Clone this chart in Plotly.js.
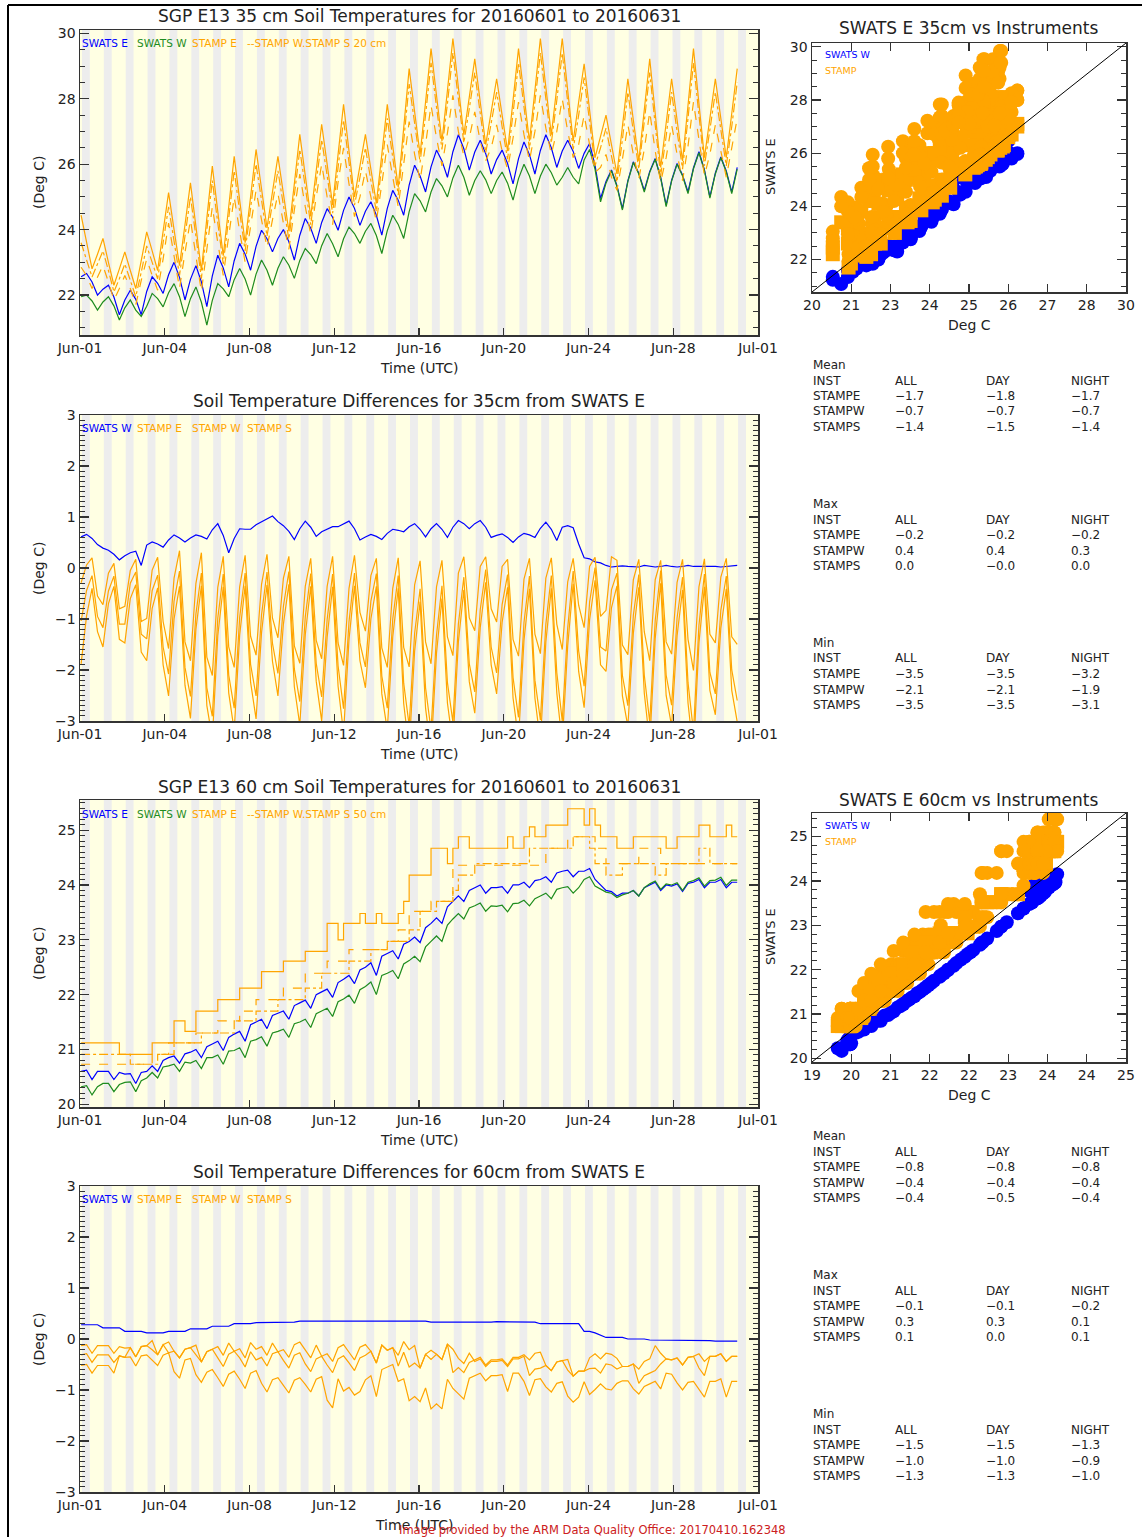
<!DOCTYPE html>
<html>
<head>
<meta charset="utf-8">
<script src="https://cdn.plot.ly/plotly-3.0.1.min.js"></script>
<style>html,body{margin:0;padding:0;background:#fff;}#chart{width:1142px;height:1537px;}</style>
</head>
<body>
<div id="chart"></div>
<script>
// ---------------- DATA ----------------
// samples: day d + [0.05, 0.30, 0.55, 0.80], d = 0..29, plus one final sample
const SAMPLE_PHASES = [0.05, 0.30, 0.55, 0.80];
const X_TICK_LABELS = ["Jun-01","Jun-04","Jun-08","Jun-12","Jun-16","Jun-20","Jun-24","Jun-28","Jul-01"];
const AXIS_DAYS = 31;

// 35 cm
const SWATS_E_35 = [
22.56,22.66,22.40,22.00, 22.18,22.30,21.94,21.40, 21.85,22.15,21.87,21.40, 22.11,22.56,22.36,22.05,
22.62,23.00,22.54,21.85, 22.48,22.90,22.40,21.65, 22.59,23.22,22.83,22.25, 23.05,23.58,23.25,22.76,
23.49,23.98,23.72,23.32, 23.73,24.00,23.63,23.07, 23.83,24.34,24.04,23.58, 24.22,24.64,24.38,23.98,
24.59,25.00,24.65,24.13, 24.56,24.85,24.44,23.83, 24.65,25.20,24.90,24.44, 25.36,25.97,25.64,25.15,
25.92,26.43,26.10,25.60, 26.38,26.90,26.47,25.82, 26.37,26.73,26.32,25.70, 26.14,26.43,26.02,25.40,
26.17,26.68,26.29,25.70, 26.42,26.90,26.50,25.90, 26.40,26.73,26.39,25.87, 26.33,26.63,25.96,24.95,
25.47,25.82,25.35,24.64, 25.50,26.07,25.72,25.20, 25.78,26.17,25.60,24.75, 25.51,26.02,25.67,25.15,
25.89,26.38,25.83,25.00, 25.73,26.22,25.79,25.15, 25.90];
const SWATS_W_35 = [
21.95,22.00,21.82,21.54, 21.79,21.95,21.67,21.24, 21.61,21.85,21.54,21.35, 21.66,22.05,21.89,21.64,
22.07,22.35,21.95,21.34, 21.89,22.25,21.78,21.08, 21.84,22.35,22.19,21.95, 22.47,22.81,22.49,22.00,
22.64,23.07,22.76,22.30, 22.82,23.17,22.91,22.51, 23.06,23.42,23.24,22.96, 23.51,23.88,23.57,23.17,
23.72,24.08,23.88,23.58, 23.95,24.19,23.82,23.27, 23.97,24.44,24.16,23.73, 24.55,25.10,24.88,24.54,
25.15,25.56,25.34,25.00, 25.58,25.97,25.60,25.05, 25.50,25.80,25.52,25.10, 25.50,25.76,25.42,24.90,
25.56,26.00,25.64,25.10, 25.64,26.00,25.74,25.36, 25.60,25.90,25.60,25.40, 26.13,26.45,25.84,24.85,
25.42,25.80,25.32,24.60, 25.47,26.05,25.70,25.15, 25.75,26.15,25.57,24.70, 25.48,26.00,25.64,25.10,
25.86,26.35,25.80,24.96, 25.70,26.20,25.76,25.10, 25.85];
const STAMP_E_35 = [
24.44,23.60,22.80,23.25, 23.73,23.00,22.30,22.80, 23.32,22.75,22.20,23.05, 23.93,23.35,22.75,23.95,
25.13,24.00,22.90,24.15, 25.43,24.10,22.75,24.35, 25.94,24.55,23.20,24.70, 26.24,24.90,23.60,25.00,
26.45,25.25,24.05,25.15, 26.24,25.10,23.95,25.40, 26.91,25.65,24.40,25.80, 27.22,26.00,24.75,26.30,
27.83,26.40,25.00,25.95, 26.91,25.85,24.80,26.30, 27.83,26.55,25.30,27.10, 28.92,27.60,26.30,27.90,
29.53,28.10,26.70,28.25, 29.84,28.35,26.90,28.05, 29.22,27.90,26.60,27.60, 28.61,27.50,26.40,27.95,
29.53,28.10,26.70,28.25, 29.84,28.35,26.90,28.35, 29.84,28.25,26.70,27.90, 29.07,27.65,26.20,26.85,
27.50,26.60,25.70,27.15, 28.61,27.35,26.10,27.65, 29.22,27.55,25.90,27.25, 28.61,27.35,26.10,27.80,
29.53,27.85,26.20,27.40, 28.61,27.40,26.20,27.55, 28.92];
const STAMP_W_35 = [
22.85,22.60,22.20,22.55, 22.90,22.40,21.85,22.20, 22.60,22.20,21.70,22.45, 23.10,22.60,22.15,23.10,
24.20,23.20,22.20,23.30, 24.30,23.20,22.10,23.40, 24.70,23.60,22.60,23.80, 25.00,23.95,23.00,24.10,
25.20,24.30,23.45,24.30, 25.10,24.20,23.40,24.60, 25.70,24.70,23.85,25.00, 26.00,25.00,24.15,25.45,
26.50,25.40,24.40,25.00, 25.80,25.00,24.25,25.40, 26.60,25.60,24.70,26.00, 27.30,26.30,25.50,26.60,
27.80,26.80,25.95,26.95, 28.10,27.00,26.25,26.80, 27.60,26.70,26.10,26.50, 27.20,26.40,25.85,26.80,
27.90,26.90,26.10,27.00, 28.10,27.10,26.30,27.00, 28.00,27.00,26.20,26.60, 27.50,26.60,25.75,25.90,
26.30,25.60,25.20,26.15, 27.20,26.30,25.55,26.45, 27.60,26.40,25.45,26.20, 27.20,26.30,25.50,26.55,
27.90,26.75,25.65,26.30, 27.20,26.40,25.60,26.50, 27.40];
const STAMP_S_35 = [
23.60,23.10,22.55,22.95, 23.35,22.75,22.10,22.50, 22.95,22.45,21.95,22.70, 23.50,23.00,22.50,23.60,
24.70,23.65,22.60,23.80, 25.00,23.80,22.50,24.00, 25.50,24.20,22.95,24.35, 25.80,24.55,23.35,24.65,
26.00,24.90,23.80,24.80, 25.80,24.75,23.70,25.05, 26.45,25.30,24.15,25.45, 26.75,25.65,24.50,25.90,
27.35,26.05,24.75,25.60, 26.50,25.50,24.55,25.95, 27.40,26.20,25.05,26.70, 28.45,27.25,26.05,27.50,
29.10,27.75,26.45,27.85, 29.40,28.00,26.65,27.70, 28.80,27.55,26.35,27.25, 28.20,27.15,26.15,27.55,
29.10,27.75,26.45,27.90, 29.40,28.00,26.65,27.95, 29.40,27.90,26.45,27.50, 28.65,27.30,25.95,26.50,
27.10,26.25,25.45,26.75, 28.20,27.00,25.85,27.30, 28.80,27.20,25.65,26.85, 28.20,27.00,25.85,27.40,
29.10,27.50,25.95,27.05, 28.20,27.05,25.95,27.15, 28.50];

// 60 cm
const SWATS_E_60 = [
20.60,20.62,20.45,20.60, 20.60,20.60,20.45,20.58, 20.55,20.56,20.38,20.58, 20.60,20.70,20.60,20.80,
20.85,20.88,20.75,20.92, 20.95,21.00,20.85,21.05, 21.10,21.15,20.98,21.22, 21.28,21.33,21.15,21.45,
21.50,21.55,21.38,21.62, 21.66,21.70,21.55,21.80, 21.85,21.90,21.75,22.00, 22.05,22.10,21.95,22.22,
22.28,22.35,22.20,22.45, 22.50,22.58,22.35,22.70, 22.75,22.80,22.65,22.92, 22.97,23.05,22.95,23.22,
23.30,23.40,23.30,23.60, 23.70,23.80,23.70,23.90, 23.95,24.00,23.85,23.95, 23.95,23.97,23.85,24.00,
24.00,24.05,23.95,24.08, 24.10,24.15,24.05,24.22, 24.25,24.27,24.15,24.25, 24.25,24.30,24.10,24.00,
23.90,23.88,23.80,23.85, 23.85,23.90,23.80,23.95, 24.00,24.05,23.90,24.00, 23.98,24.02,23.88,24.03,
24.05,24.10,23.95,24.05, 24.05,24.10,23.95,24.05, 24.05];
const SWATS_W_60 = [
20.32,20.34,20.17,20.32, 20.38,20.38,20.23,20.36, 20.40,20.41,20.23,20.43, 20.48,20.58,20.48,20.68,
20.70,20.73,20.60,20.77, 20.75,20.80,20.65,20.85, 20.85,20.90,20.73,20.97, 20.98,21.03,20.85,21.15,
21.18,21.23,21.06,21.30, 21.33,21.37,21.22,21.47, 21.50,21.55,21.40,21.65, 21.70,21.75,21.60,21.87,
21.92,21.99,21.84,22.09, 22.15,22.23,22.00,22.35, 22.39,22.44,22.29,22.56, 22.62,22.70,22.60,22.87,
22.97,23.07,22.97,23.27, 23.38,23.48,23.38,23.58, 23.62,23.67,23.52,23.62, 23.61,23.63,23.51,23.66,
23.67,23.72,23.62,23.75, 23.80,23.85,23.75,23.92, 23.95,23.97,23.85,23.95, 24.10,24.15,23.98,23.92,
23.87,23.85,23.77,23.82, 23.85,23.90,23.80,23.95, 24.02,24.07,23.92,24.02, 24.00,24.04,23.90,24.05,
24.08,24.13,23.98,24.08, 24.09,24.14,23.99,24.09, 24.09];
const STAMP_E_60 = [
21.12,21.12,21.12,21.12, 21.12,21.12,21.12,20.91, 20.91,20.91,20.91,20.91, 20.91,21.12,21.12,21.12,
21.12,21.52,21.52,21.33, 21.33,21.70,21.70,21.70, 21.70,21.91,21.91,21.91, 21.91,22.12,22.12,22.12,
22.12,22.42,22.42,22.42, 22.42,22.61,22.61,22.61, 22.61,22.79,22.79,22.79, 22.79,23.30,23.30,23.00,
23.30,23.30,23.30,23.48, 23.30,23.30,23.48,23.30, 23.30,23.30,23.48,23.70, 24.18,24.18,24.18,24.18,
24.67,24.67,24.67,24.39, 24.67,24.88,24.88,24.67, 24.67,24.67,24.67,24.67, 24.67,24.67,24.88,24.67,
24.67,24.88,25.06,24.88, 24.88,25.09,25.09,25.09, 25.09,25.39,25.39,25.39, 25.09,25.39,25.09,24.88,
24.88,24.88,24.67,24.67, 24.67,24.88,24.88,24.88, 24.88,24.88,24.88,24.67, 24.67,24.88,24.88,24.88,
24.88,25.09,25.09,24.88, 24.88,24.88,25.09,24.88, 24.88];
const STAMP_W_60 = [
20.73,20.73,20.73,20.73, 20.73,20.73,20.73,20.73, 20.73,20.73,20.73,20.73, 20.73,20.91,20.91,20.91,
21.12,21.12,21.12,21.12, 21.12,21.30,21.30,21.30, 21.30,21.52,21.52,21.52, 21.52,21.70,21.70,21.70,
21.91,21.91,21.91,21.91, 21.91,22.12,22.12,22.12, 22.12,22.39,22.39,22.39, 22.39,22.61,22.61,22.61,
22.61,22.82,22.82,22.82, 22.82,22.82,22.82,22.82, 22.97,22.97,23.18,23.18, 23.52,23.52,23.52,23.52,
23.70,23.70,23.70,23.70, 24.36,24.36,24.36,24.36, 24.36,24.36,24.36,24.36, 24.36,24.36,24.36,24.36,
24.36,24.36,24.36,24.36, 24.36,24.67,24.67,24.67, 24.67,24.88,24.88,24.88, 24.88,24.88,24.67,24.67,
24.39,24.39,24.39,24.39, 24.39,24.39,24.67,24.67, 24.67,24.67,24.39,24.39, 24.39,24.39,24.39,24.39,
24.39,24.39,24.39,24.39, 24.39,24.39,24.39,24.39, 24.39];
const STAMP_S_60 = [
20.91,20.91,20.91,20.91, 20.91,20.91,20.91,20.91, 20.91,20.73,20.73,20.73, 20.73,20.73,20.91,20.91,
20.91,21.12,21.12,21.12, 21.12,21.12,21.30,21.30, 21.30,21.30,21.30,21.30, 21.52,21.52,21.52,21.52,
21.70,21.70,21.70,21.70, 21.91,21.91,21.91,21.91, 21.91,22.12,22.12,22.12, 22.39,22.39,22.39,22.39,
22.39,22.61,22.61,22.61, 22.61,22.82,22.82,22.82, 22.97,22.97,22.97,22.97, 23.18,23.18,23.52,23.52,
23.52,23.70,23.70,23.70, 23.90,24.18,24.18,24.18, 24.39,24.39,24.39,24.39, 24.39,24.39,24.39,24.39,
24.39,24.39,24.67,24.67, 24.67,24.67,24.67,24.67, 24.67,24.67,24.88,24.88, 24.88,24.67,24.39,24.39,
24.18,24.18,24.18,24.39, 24.39,24.39,24.39,24.39, 24.39,24.18,24.18,24.39, 24.39,24.39,24.39,24.39,
24.39,24.67,24.67,24.39, 24.39,24.39,24.39,24.39, 24.39];

// scatter tick labels (as printed)
const SC35_XTICK_LABELS = ["20","21","23","24","25","26","27","28","30"];
const SC60_XTICK_LABELS = ["19","20","21","22","22","23","24","24","25"];

// statistics tables
const STAT_INST = ["STAMPE","STAMPW","STAMPS"];
const STATS_35 = {
  Mean: [["−1.7","−1.8","−1.7"],["−0.7","−0.7","−0.7"],["−1.4","−1.5","−1.4"]],
  Max:  [["−0.2","−0.2","−0.2"],["0.4","0.4","0.3"],["0.0","−0.0","0.0"]],
  Min:  [["−3.5","−3.5","−3.2"],["−2.1","−2.1","−1.9"],["−3.5","−3.5","−3.1"]]
};
const STATS_60 = {
  Mean: [["−0.8","−0.8","−0.8"],["−0.4","−0.4","−0.4"],["−0.4","−0.5","−0.4"]],
  Max:  [["−0.1","−0.1","−0.2"],["0.3","0.3","0.1"],["0.1","0.0","0.1"]],
  Min:  [["−1.5","−1.5","−1.3"],["−1.0","−1.0","−0.9"],["−1.3","−1.3","−1.0"]]
};

// ---------------- STYLE ----------------
const W = 1142, H = 1537;
const FONT = "DejaVu Sans";
const BLUE = "#0000FF", GREEN = "#1E8C1E", ORANGE = "#FFA500";
const DAYBG = "#FFFFE3", NIGHTBG = "#EDEDED";
const AX = "#333333";
const px = v => v / W, py = v => 1 - v / H;

const T = SWATS_E_35.map((_, i) => Math.floor(i / 4) + SAMPLE_PHASES[i % 4]);
const diff = (a, b) => a.map((v, i) => +(v - b[i]).toFixed(3));
const XTICK_VALS = X_TICK_LABELS.map((_, k) => k * AXIS_DAYS / 8);

const traces = [];
function line(xa, ya, y, color, dash, shape, width) {
  traces.push({type: "scatter", mode: "lines", x: T, y: y, xaxis: xa, yaxis: ya,
    line: {color: color, width: width || 1.2, dash: dash || "solid", shape: shape || "linear"},
    hoverinfo: "skip"});
}
// panel 1: 35 cm temperatures
line("x", "y", SWATS_E_35, BLUE);
line("x", "y", SWATS_W_35, GREEN);
line("x", "y", STAMP_E_35, ORANGE);
line("x", "y", STAMP_W_35, ORANGE, "dash");
line("x", "y", STAMP_S_35, ORANGE, "dashdot");
// panel 2: 35 cm differences
line("x2", "y2", diff(SWATS_E_35, SWATS_W_35), BLUE);
line("x2", "y2", diff(SWATS_E_35, STAMP_E_35), ORANGE);
line("x2", "y2", diff(SWATS_E_35, STAMP_W_35), ORANGE);
line("x2", "y2", diff(SWATS_E_35, STAMP_S_35), ORANGE);
// panel 3: 60 cm temperatures
line("x3", "y3", SWATS_E_60, BLUE);
line("x3", "y3", SWATS_W_60, GREEN);
line("x3", "y3", STAMP_E_60, ORANGE, "solid", "hv");
line("x3", "y3", STAMP_W_60, ORANGE, "dash", "hv");
line("x3", "y3", STAMP_S_60, ORANGE, "dashdot", "hv");
// panel 4: 60 cm differences
line("x4", "y4", diff(SWATS_E_60, SWATS_W_60), BLUE);
line("x4", "y4", diff(SWATS_E_60, STAMP_E_60), ORANGE);
line("x4", "y4", diff(SWATS_E_60, STAMP_W_60), ORANGE);
line("x4", "y4", diff(SWATS_E_60, STAMP_S_60), ORANGE);

function pts(xa, ya, x, y, color, symbol) {
  traces.push({type: "scatter", mode: "markers", x: x, y: y, xaxis: xa, yaxis: ya,
    marker: {color: color, size: 14, symbol: symbol, line: {width: 0}}, hoverinfo: "skip"});
}
pts("x5", "y5", SWATS_E_35, SWATS_W_35, BLUE, "circle");
pts("x5", "y5", SWATS_E_35, STAMP_E_35, ORANGE, "circle");
pts("x5", "y5", SWATS_E_35, STAMP_W_35, ORANGE, "square");
pts("x5", "y5", SWATS_E_35, STAMP_S_35, ORANGE, "circle");
pts("x6", "y6", SWATS_E_60, SWATS_W_60, BLUE, "circle");
pts("x6", "y6", SWATS_E_60, STAMP_E_60, ORANGE, "circle");
pts("x6", "y6", SWATS_E_60, STAMP_W_60, ORANGE, "square");
pts("x6", "y6", SWATS_E_60, STAMP_S_60, ORANGE, "circle");

// ---------------- AXES ----------------
const TICKFONT = {family: FONT, size: 14, color: "#222"};
function tsX(anchor) {
  return {domain: [px(80), px(758)], range: [0, AXIS_DAYS], anchor: anchor,
    tickmode: "array", tickvals: XTICK_VALS, ticktext: X_TICK_LABELS,
    ticks: "inside", ticklen: 7, tickwidth: 1.2, tickcolor: AX,
    showline: true, linecolor: AX, linewidth: 1.5, mirror: true,
    showgrid: false, zeroline: false, tickfont: TICKFONT, fixedrange: true};
}
function yAx(anchor, top, bottom, range, dtick, minor) {
  return {domain: [py(bottom), py(top)], range: range, anchor: anchor,
    tick0: 0, dtick: dtick, ticks: "inside", ticklen: 9, tickwidth: 1.2, tickcolor: AX,
    minor: {dtick: minor, ticks: "inside", ticklen: 5, tickwidth: 1, tickcolor: AX},
    showline: true, linecolor: AX, linewidth: 1.5, mirror: "ticks",
    showgrid: false, zeroline: false, tickfont: TICKFONT, fixedrange: true};
}
function scX(anchor, range, labels) {
  const vals = labels.map((_, k) => range[0] + k * (range[1] - range[0]) / 8);
  return {domain: [px(812), px(1126)], range: range, anchor: anchor,
    tickmode: "array", tickvals: vals, ticktext: labels,
    ticks: "inside", ticklen: 8, tickwidth: 1.2, tickcolor: AX,
    showline: true, linecolor: AX, linewidth: 1.5, mirror: "ticks",
    showgrid: false, zeroline: false, tickfont: TICKFONT, fixedrange: true};
}
const R35 = [20.78, 30.10], RD = [-3.002, 3.002], R60 = [19.95, 25.55];
const RS35 = [20.78, 30.14], RS60 = [19.92, 25.53];

// ---------------- SHAPES (day/night background) ----------------
const shapes = [];
[["x", "y"], ["x2", "y2"], ["x3", "y3"], ["x4", "y4"]].forEach(([xa, ya]) => {
  shapes.push({type: "rect", xref: xa, yref: ya + " domain", x0: 0, x1: AXIS_DAYS, y0: 0, y1: 1,
    fillcolor: DAYBG, line: {width: 0}, layer: "below"});
  for (let d = 0; d < AXIS_DAYS; d++) {
    shapes.push({type: "rect", xref: xa, yref: ya + " domain", x0: d + 0.09, x1: d + 0.45, y0: 0, y1: 1,
      fillcolor: NIGHTBG, line: {width: 0}, layer: "below"});
  }
});
shapes.push({type: "line", xref: "x5", yref: "y5", x0: RS35[0], y0: RS35[0], x1: RS35[1], y1: RS35[1],
  line: {color: "#000", width: 1}});
shapes.push({type: "line", xref: "x6", yref: "y6", x0: RS60[0], y0: RS60[0], x1: RS60[1], y1: RS60[1],
  line: {color: "#000", width: 1}});
// image frame
shapes.push({type: "line", xref: "paper", yref: "paper", x0: px(8), x1: 1, y0: py(5), y1: py(5), line: {color: "#000", width: 2}});
shapes.push({type: "line", xref: "paper", yref: "paper", x0: px(8), x1: px(8), y0: py(5), y1: 0, line: {color: "#000", width: 2}});

// ---------------- ANNOTATIONS ----------------
const ann = [];
function txt(x, y, text, size, color, anchor, angle) {
  ann.push({xref: "paper", yref: "paper", x: px(x), y: py(y), text: text, showarrow: false,
    xanchor: anchor || "center", yanchor: "middle", textangle: angle || 0,
    font: {family: FONT, size: size, color: color || "#222"}});
}
const PANEL_TITLES = [
  ["SGP E13 35 cm Soil Temperatures for 20160601 to 20160631", 16],
  ["Soil Temperature Differences for 35cm from SWATS E", 401],
  ["SGP E13 60 cm Soil Temperatures for 20160601 to 20160631", 787],
  ["Soil Temperature Differences for 60cm from SWATS E", 1172]];
PANEL_TITLES.forEach(([t, y]) => txt(419, y, t, 17));
[368, 754, 1140].forEach(y => txt(419, y, "Time (UTC)", 14));
txt(414, 1525, "Time (UTC)", 14);
[182, 568, 953, 1339].forEach(y => txt(39, y, "(Deg C)", 14, "#222", "center", -90));
txt(969, 28, "SWATS E 35cm vs Instruments", 17);
txt(969, 800, "SWATS E 60cm vs Instruments", 17);
txt(969, 325, "Deg C", 14); txt(969, 1095, "Deg C", 14);
txt(771, 167, "SWATS E", 13, "#222", "center", -90);
txt(771, 937, "SWATS E", 13, "#222", "center", -90);

// in-plot legends
const LEG_X = [80, 135, 190, 245];
const LEGF = 10.5;
function tsLegend(y, depth) {
  txt(LEG_X[0], y, "SWATS E", LEGF, BLUE, "left");
  txt(LEG_X[1], y, "SWATS W", LEGF, GREEN, "left");
  txt(LEG_X[2], y, "STAMP E", LEGF, ORANGE, "left");
  txt(LEG_X[3], y, "--STAMP W.STAMP S " + depth + " cm", LEGF, ORANGE, "left");
}
function dfLegend(y) {
  txt(LEG_X[0], y, "SWATS W", LEGF, BLUE, "left");
  txt(LEG_X[1], y, "STAMP E", LEGF, ORANGE, "left");
  txt(LEG_X[2], y, "STAMP W", LEGF, ORANGE, "left");
  txt(LEG_X[3], y, "STAMP S", LEGF, ORANGE, "left");
}
tsLegend(43, "20"); dfLegend(428); tsLegend(814, "50"); dfLegend(1199);
txt(823, 54, "SWATS W", 9.5, BLUE, "left"); txt(823, 70, "STAMP", 9.5, ORANGE, "left");
txt(823, 825, "SWATS W", 9.5, BLUE, "left"); txt(823, 841, "STAMP", 9.5, ORANGE, "left");

// statistics tables
const COLS = [811, 893, 984, 1069];
const ROWH = 15.5;
function statBlock(top, name, rows) {
  txt(COLS[0], top, name, 12, "#222", "left");
  ["INST", "ALL", "DAY", "NIGHT"].forEach((h, j) => txt(COLS[j], top + ROWH, h, 12, "#222", "left"));
  rows.forEach((r, i) => {
    txt(COLS[0], top + ROWH * (i + 2), STAT_INST[i], 12, "#222", "left");
    r.forEach((v, j) => txt(COLS[j + 1], top + ROWH * (i + 2), v, 12, "#222", "left"));
  });
}
statBlock(365, "Mean", STATS_35.Mean); statBlock(504, "Max", STATS_35.Max); statBlock(643, "Min", STATS_35.Min);
statBlock(1136, "Mean", STATS_60.Mean); statBlock(1275, "Max", STATS_60.Max); statBlock(1414, "Min", STATS_60.Min);

txt(397, 1530, "Image provided by the ARM Data Quality Office: 20170410.162348", 11.5, "#CC2020", "left");

// ---------------- LAYOUT ----------------
const layout = {
  width: W, height: H, margin: {l: 0, r: 0, t: 0, b: 0},
  paper_bgcolor: "#FFFFFF", plot_bgcolor: "#FFFFFF", showlegend: false,
  font: {family: FONT, color: "#222"},
  xaxis: tsX("y"), yaxis: yAx("x", 30, 335, R35, 2, 0.5),
  xaxis2: tsX("y2"), yaxis2: yAx("x2", 415, 721, RD, 1, 0.1),
  xaxis3: tsX("y3"), yaxis3: yAx("x3", 800, 1107, R60, 1, 0.1),
  xaxis4: tsX("y4"), yaxis4: yAx("x4", 1186, 1492, RD, 1, 0.1),
  xaxis5: scX("y5", RS35, SC35_XTICK_LABELS), yaxis5: yAx("x5", 43, 292, RS35, 2, 0.5),
  xaxis6: scX("y6", RS60, SC60_XTICK_LABELS), yaxis6: yAx("x6", 813, 1062, RS60, 1, 0.2),
  shapes: shapes, annotations: ann
};
Plotly.newPlot("chart", traces, layout, {staticPlot: true, displayModeBar: false});
</script>
</body>
</html>
